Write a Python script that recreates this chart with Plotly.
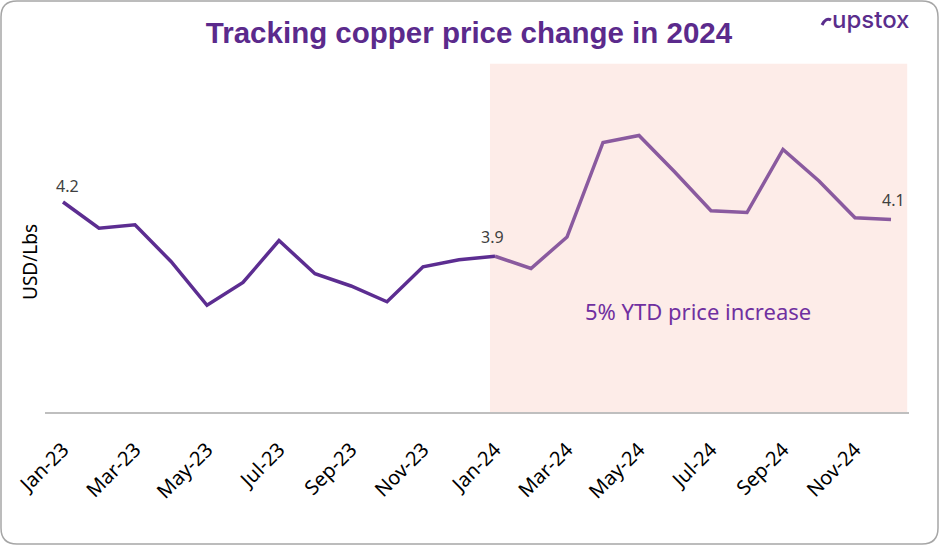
import plotly.graph_objects as go

months = ["Jan-23", "Feb-23", "Mar-23", "Apr-23", "May-23", "Jun-23", "Jul-23", "Aug-23",
          "Sep-23", "Oct-23", "Nov-23", "Dec-23", "Jan-24", "Feb-24", "Mar-24", "Apr-24",
          "May-24", "Jun-24", "Jul-24", "Aug-24", "Sep-24", "Oct-24", "Nov-24", "Dec-24"]
prices = [4.20, 4.05, 4.07, 3.86, 3.61, 3.74, 3.98, 3.79, 3.72, 3.63, 3.83, 3.87,
          3.89, 3.82, 4.00, 4.54, 4.58, 4.37, 4.15, 4.14, 4.50, 4.32, 4.11, 4.10]
tick_labels = months[::2]
split = 12  # Jan-24 index
label_points = {"Jan-23": "4.2", "Jan-24": "3.9", "Dec-24": "4.1"}

W, H = 940, 546
ML, MR, MT, MB = 45, 31, 62, 134
PW, PH = W - ML - MR, H - MT - MB


def px2paper(px, py):
    return (px - ML) / PW, (H - MB - py) / PH


fig = go.Figure()

fig.add_trace(go.Scatter(x=months[:split + 1], y=prices[:split + 1], mode="lines",
                         line=dict(color="#5C2D91", width=3.5), hoverinfo="x+y",
                         showlegend=False))
fig.add_trace(go.Scatter(x=months[split:], y=prices[split:], mode="lines",
                         line=dict(color="#8A5A9F", width=3.5), hoverinfo="x+y",
                         showlegend=False))

# shaded 2024 region
fig.add_shape(type="rect", xref="x", yref="y", x0=split - 0.14, x1=len(months) - 0.55,
              y0=3.0, y1=4.99, fillcolor="#FDECE8", line=dict(width=0), layer="below")

# rounded border
x0, y0 = px2paper(1, 544)
x1, y1 = px2paper(938, 1)
rx, ry = 16 / PW, 16 / PH
path = (f"M {x0+rx},{y0} L {x1-rx},{y0} Q {x1},{y0} {x1},{y0+ry} "
        f"L {x1},{y1-ry} Q {x1},{y1} {x1-rx},{y1} L {x0+rx},{y1} "
        f"Q {x0},{y1} {x0},{y1-ry} L {x0},{y0+ry} Q {x0},{y0} {x0+rx},{y0} Z")
fig.add_shape(type="path", xref="paper", yref="paper", path=path,
              line=dict(color="#A6A6A6", width=1.5), layer="above")

# logo hook
hx0, hy0 = px2paper(822, 25)
hxc, hyc = px2paper(826, 17)
hx1, hy1 = px2paper(831, 20)
fig.add_shape(type="path", xref="paper", yref="paper",
              path=f"M {hx0},{hy0} Q {hxc},{hyc} {hx1},{hy1}",
              line=dict(color="#5A2D8C", width=3))

# data labels
shifts = {"Jan-23": (4, 16), "Jan-24": (-3, 19), "Dec-24": (2, 20)}
for m, txt in label_points.items():
    i = months.index(m)
    fig.add_annotation(x=m, y=prices[i], text=txt, showarrow=False,
                       xshift=shifts[m][0], yshift=shifts[m][1],
                       font=dict(family="Noto Sans", size=16, color="#404040"))

ax, ay = px2paper(698, 311)
fig.add_annotation(x=ax, y=ay, xref="paper", yref="paper", text="5% YTD price increase",
                   showarrow=False, xanchor="center", yanchor="middle",
                   font=dict(family="Noto Sans", size=22, color="#7030A0"))

tx, ty = px2paper(30, 262)
fig.add_annotation(x=tx, y=ty, xref="paper", yref="paper", text="USD/Lbs", textangle=-90,
                   showarrow=False, xanchor="center", yanchor="middle",
                   font=dict(family="Noto Sans", size=19, color="#000000"))

lx, ly = px2paper(870, 20)
fig.add_annotation(x=lx, y=ly, xref="paper", yref="paper", text="upstox",
                   showarrow=False, xanchor="center", yanchor="middle",
                   font=dict(family="Inter", size=24, color="#5A2D8C", weight=500))

fig.update_layout(
    width=W, height=H,
    margin=dict(l=ML, r=MR, t=MT, b=MB),
    paper_bgcolor="white", plot_bgcolor="white",
    title=dict(text="<b>Tracking copper price change in 2024</b>", x=469 / W, y=1 - 33 / H,
               xanchor="center", yanchor="middle",
               font=dict(family="Liberation Sans", size=29.5, color="#5B2A8C")),
    xaxis=dict(type="category", categoryorder="array", categoryarray=months,
               range=[-0.5, len(months) - 0.5], tickmode="array", tickvals=tick_labels,
               ticktext=tick_labels, tickangle=-45, showgrid=False, showline=True,
               linecolor="#BFBFBF", linewidth=2, ticks="", ticklabelstandoff=16,
               tickfont=dict(family="Noto Sans", size=20, color="#000000"), fixedrange=True),
    yaxis=dict(range=[3, 5], showticklabels=False, showgrid=False, zeroline=False,
               showline=False, ticks="", fixedrange=True),
)

fig.write_html("out.html", config={"displayModeBar": False},
               post_script="document.body.style.margin='0';document.body.style.overflow='hidden';")
